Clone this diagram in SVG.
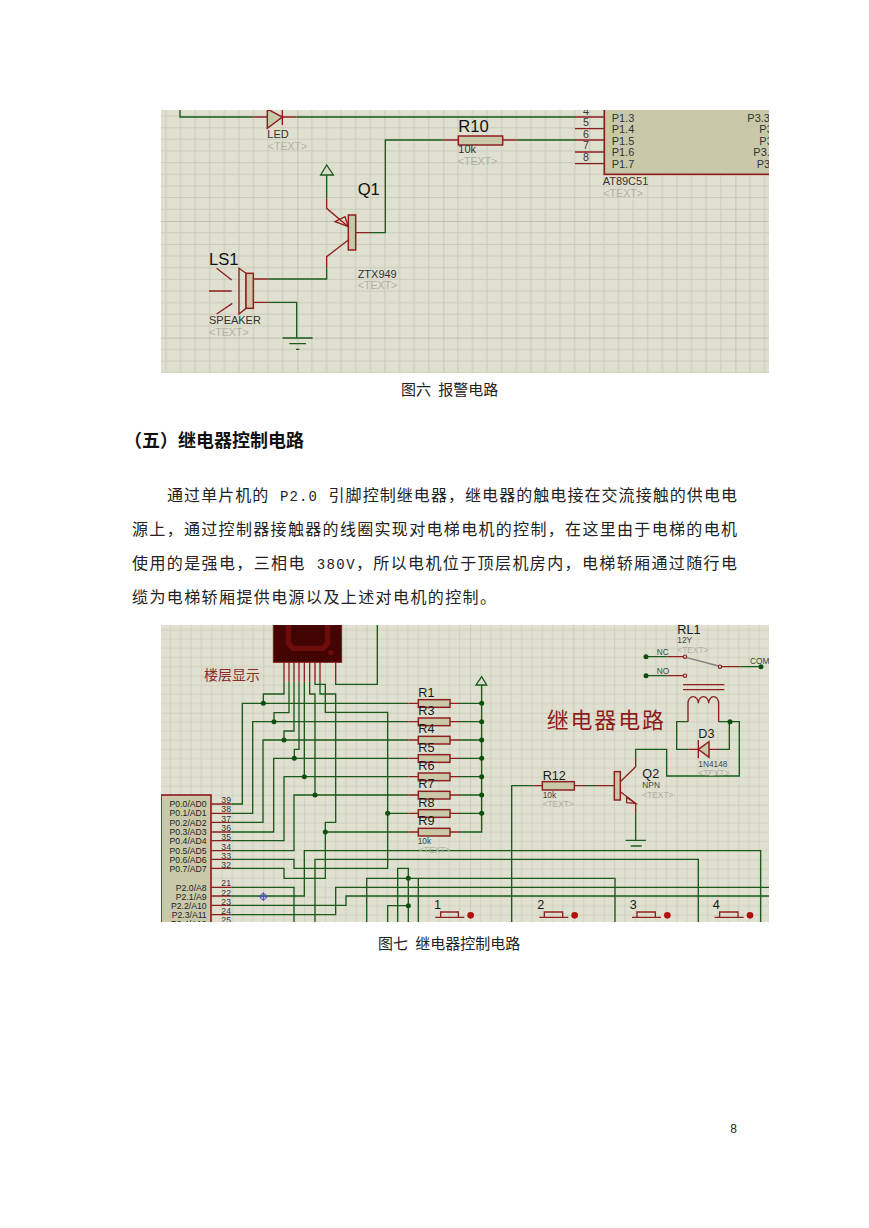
<svg xmlns="http://www.w3.org/2000/svg" width="869" height="1228" viewBox="0 0 869 1228">
<style>
.w{fill:none;stroke:#1a5a1a;stroke-width:4}
.r{fill:none;stroke:#8f1f1f;stroke-width:4}
.b{fill:#c9c9aa;stroke:#8f1f1f;stroke-width:4.500}
.j{fill:#0f4f0f}
text{font-family:"Liberation Sans","Noto Sans CJK SC",sans-serif}
.l{font-size:50px;fill:#111}
.m{font-size:38px;fill:#1a1a1a}
.s{font-size:33px;fill:#333}
.t{font-size:32px;fill:#b0b0a8}
.ss{font-size:25px;fill:#444}
.st{font-size:25px;fill:#b0b0a8}
.p{font-size:32px;fill:#333}
.c{font-size:15px;fill:#222;word-spacing:3px}
.x{font-family:"Liberation Mono","Noto Sans CJK SC",monospace;font-size:16px;fill:#222}
.h{font-size:18px;font-weight:700;fill:#111}
.n{font-family:"Liberation Mono",monospace;font-size:12px;fill:#222}
</style>
<defs>
<pattern id="g1" patternUnits="userSpaceOnUse" width="438" height="350" x="412" y="-2">
<rect width="438" height="350" fill="#e0e0d0"/>
<path d="M43.800 0V350M87.600 0V350M131.400 0V350M175.200 0V350M219 0V350M262.800 0V350M306.600 0V350M350.400 0V350M394.200 0V350M0 35H438M0 70H438M0 105H438M0 140H438M0 175H438M0 210H438M0 245H438M0 280H438M0 315H438" stroke="#cbcbbb" stroke-width="3"/>
<path d="M0 0V350M0 0H438" stroke="#b9b9a8" stroke-width="4"/>
</pattern>
<pattern id="g2" patternUnits="userSpaceOnUse" width="310" height="276" x="0" y="2">
<rect width="310" height="276" fill="#e0e0d0"/>
<path d="M31 0V276M62 0V276M93 0V276M124 0V276M155 0V276M186 0V276M217 0V276M248 0V276M279 0V276M0 27.600H310M0 55.200H310M0 82.800H310M0 110.400H310M0 138H310M0 165.600H310M0 193.200H310M0 220.800H310M0 248.400H310" stroke="#cdcdbd" stroke-width="2.500"/>
<path d="M0 0V276M0 0H310" stroke="#bcbcab" stroke-width="3.500"/>
</pattern>
<clipPath id="c1"><rect x="3" y="15" width="1824" height="789"/></clipPath>
<clipPath id="c2"><rect x="3" y="15" width="1824" height="891"/></clipPath>
</defs>
<rect width="869" height="1228" fill="#fff"/>

<g id="figure-6" transform="translate(160 105) scale(.33333)" clip-path="url(#c1)">
<rect x="3" y="15" width="1824" height="789" fill="url(#g1)"/>
<g id="connectors-6">
<path class="w" d="M60 15V36H280M410 36H1245M500 210V280M630 383H676V105H850M1070 105H1245M500 490V522H325M325 592H410V698"/>
<path class="w" d="M368 699H458M388 716H438M408 733H418M500 180L482 210H520Z"/>
<path class="r" d="M280 36H322M367 36H410M500 280V310L565 365M587 383H630M565 405L500 455V490M325 522H282M280 592H325M850 105H895M1028 105H1070"/>
</g>
<g id="LED">
<path class="b" d="M322 12V70L367 36Z"/><path class="r" d="M367 12V60"/>
<text class="s" x="322" y="100">LED</text><text class="t" x="323" y="135">&lt;TEXT&gt;</text>
</g>
<g id="Q1">
<rect class="b" x="565" y="330" width="22" height="105"/>
<path class="r" d="M525 350L555 335L565 365Z" fill="#e0e0d0"/>
<text class="l" x="593" y="269">Q1</text><text class="s" x="593" y="518">ZTX949</text><text class="t" x="593" y="553">&lt;TEXT&gt;</text>
</g>
<g id="LS1">
<path class="r" d="M237 490L258 505V610L237 627ZM170 490L215 525M147 558H215M170 627L217 595"/>
<rect class="b" x="258" y="505" width="22" height="105"/>
<text class="l" x="147" y="480">LS1</text><text class="s" x="147" y="658">SPEAKER</text><text class="t" x="147" y="693">&lt;TEXT&gt;</text>
</g>
<g id="R10">
<rect class="b" x="895" y="93" width="133" height="27"/>
<text class="l" x="895" y="80">R10</text><text class="s" x="895" y="145">10k</text><text class="t" x="893" y="180">&lt;TEXT&gt;</text>
</g>
<g id="U1">
<rect x="1333" y="0" width="600" height="208" fill="#c9c9aa" stroke="#8f1f1f" stroke-width="5"/>
<path class="r" d="M1245 36H1333M1245 71H1333M1245 105H1333M1245 141H1333M1245 176H1333"/>
<g text-anchor="middle"><text x="1278" y="31" class="p">4</text><text x="1278" y="64" class="p">5</text><text x="1278" y="98" class="p">6</text><text x="1278" y="133" class="p">7</text><text x="1278" y="169" class="p">8</text></g>
<text class="s" x="1355" y="50">P1.3</text><text class="s" x="1355" y="85">P1.4</text><text class="s" x="1355" y="119">P1.5</text><text class="s" x="1355" y="154">P1.6</text><text class="s" x="1355" y="189">P1.7</text>
<text class="s" x="1762" y="50">P3.3</text><text class="s" x="1798" y="85">P3</text><text class="s" x="1798" y="119">P3</text><text class="s" x="1780" y="154">P3.</text><text class="s" x="1790" y="189">P3</text>
<text class="s" x="1328" y="240">AT89C51</text><text class="t" x="1330" y="275">&lt;TEXT&gt;</text>
</g>
</g>

<text class="c" x="401" y="395">图六 报警电路</text>
<text class="h" x="124" y="447">（五）继电器控制电路</text>
<text class="x" x="167" y="501" textLength="570">通过单片机的 <tspan font-size="14">P2.0</tspan> 引脚控制继电器，继电器的触电接在交流接触的供电电</text>
<text class="x" x="132" y="535" textLength="605">源上，通过控制器接触器的线圈实现对电梯电机的控制，在这里由于电梯的电机</text>
<text class="x" x="132" y="569" textLength="605">使用的是强电，三相电 <tspan font-size="14">380V</tspan>，所以电机位于顶层机房内，电梯轿厢通过随行电</text>
<text class="x" x="132" y="603" textLength="364">缆为电梯轿厢提供电源以及上述对电机的控制。</text>

<g id="figure-7" transform="translate(160 620) scale(.33333)" clip-path="url(#c2)">
<rect x="3" y="15" width="1824" height="891" fill="url(#g2)"/>
<g id="connectors-7">
<path class="w" d="M372 185V222H310V250M387 185V278H342V305M402 185V333H372V360M417 185V388H403V415M433 185V470M449 185V222H465V525M480 185V222H527V607H496V636M465 185V193H496V277H683V745H402V718H215M527 185V193H652V15"/>
<path class="w" d="M215 552H247V250H745M215 580H278V305H745M215 607H309V360H745M215 636H341V415H745M215 662H372V470H745M215 692H402V525H745M683 580H745M215 745H372V775H496V636H745"/>
<path class="w" d="M900 250H965M900 305H965M900 360H965M900 415H965M900 470H965M900 525H965M900 580H965M900 636H965V195M965 170L948 195H980Z"/>
<path class="w" d="M215 828H433V692H1802V906M465 906V718H1615V906M215 802H402V906M215 856H558V828H1827M215 884H527V802H1827M620 906V775H1365V906M713 906V745H745V906M683 906V857H745M775 906V775"/>
<path class="w" d="M1055 906V497H1120M1275 497H1305M1427 415V388H1520V468H1738V305H1676M1584 305H1550V388H1585M1677 388H1708V305M1427 580V660M1397 661H1458M1412 678H1445M1458 110H1522M1458 167H1522M1738 140H1803"/>
</g>
<g id="display">
<rect x="340" y="5" width="205" height="122" fill="#430404" stroke="#8a1a1a" stroke-width="3"/>
<path d="M385 15V70L398 85H490L503 70V15" fill="none" stroke="#6e0c0c" stroke-width="16"/>
<circle cx="513" cy="98" r="8" fill="#6e0c0c"/>
<path class="r" d="M372 127V185M387 127V185M402 127V185M417 127V185M433 127V185M449 127V185M465 127V185M480 127V185M527 127V185"/>
<text x="132" y="180" font-size="42" fill="#8f2a2a">楼层显示</text>
</g>
<g id="U2">
<rect x="3" y="525" width="150" height="420" fill="#c9c9aa" stroke="#8f1f1f" stroke-width="5"/>
<path class="r" d="M153 552H215M153 580H215M153 607H215M153 636H215M153 662H215M153 692H215M153 718H215M153 745H215M153 802H215M153 828H215M153 856H215M153 884H215M153 912H215"/>
<g text-anchor="end" font-size="26" fill="#222">
<text x="140" y="562">P0.0/AD0</text><text x="140" y="589">P0.1/AD1</text><text x="140" y="618">P0.2/AD2</text><text x="140" y="646">P0.3/AD3</text><text x="140" y="673">P0.4/AD4</text><text x="140" y="701">P0.5/AD5</text><text x="140" y="729">P0.6/AD6</text><text x="140" y="756">P0.7/AD7</text><text x="140" y="812">P2.0/A8</text><text x="140" y="840">P2.1/A9</text><text x="140" y="866">P2.2/A10</text><text x="140" y="895">P2.3/A11</text><text x="140" y="922">P2.4/A12</text>
</g>
<g font-size="26" fill="#333">
<text x="184" y="549">39</text><text x="184" y="577">38</text><text x="184" y="605">37</text><text x="184" y="633">36</text><text x="184" y="660">35</text><text x="184" y="690">34</text><text x="184" y="716">33</text><text x="184" y="745">32</text><text x="184" y="799">21</text><text x="184" y="827">22</text><text x="184" y="855">23</text><text x="184" y="881">24</text><text x="184" y="908">25</text>
</g>
</g>
<g id="junctions-7" class="j">
<circle cx="310" cy="250" r="7.500"/><circle cx="342" cy="305" r="7.500"/><circle cx="372" cy="360" r="7.500"/><circle cx="403" cy="415" r="7.500"/><circle cx="433" cy="470" r="7.500"/><circle cx="465" cy="525" r="7.500"/><circle cx="683" cy="580" r="7.500"/><circle cx="496" cy="636" r="7.500"/>
<circle cx="965" cy="250" r="7.500"/><circle cx="965" cy="305" r="7.500"/><circle cx="965" cy="360" r="7.500"/><circle cx="965" cy="415" r="7.500"/><circle cx="965" cy="470" r="7.500"/><circle cx="965" cy="525" r="7.500"/><circle cx="965" cy="580" r="7.500"/>
<circle cx="745" cy="775" r="7.500"/><circle cx="745" cy="857" r="7.500"/><circle cx="1710" cy="305" r="7.500"/><circle cx="1458" cy="110" r="7.500"/><circle cx="1458" cy="167" r="7.500"/><circle cx="1803" cy="140" r="7.500"/>
</g>
<g id="marker" fill="none" stroke="#4a4ac8" stroke-width="3"><circle cx="310" cy="830" r="9"/><path d="M297 830H323M310 817V843"/></g>
<g id="R1-R9">
<path class="r" d="M745 250H775M870 250H900M745 305H775M870 305H900M745 360H775M870 360H900M745 415H775M870 415H900M745 470H775M870 470H900M745 525H775M870 525H900M745 580H775M870 580H900M745 636H775M870 636H900"/>
<rect class="b" x="775" y="239" width="95" height="23"/><rect class="b" x="775" y="294" width="95" height="23"/><rect class="b" x="775" y="349" width="95" height="23"/><rect class="b" x="775" y="404" width="95" height="23"/><rect class="b" x="775" y="459" width="95" height="23"/><rect class="b" x="775" y="514" width="95" height="23"/><rect class="b" x="775" y="569" width="95" height="23"/><rect class="b" x="775" y="625" width="95" height="23"/>
<text class="m" x="775" y="230">R1</text><text class="m" x="775" y="285">R3</text><text class="m" x="775" y="340">R4</text><text class="m" x="775" y="395">R5</text><text class="m" x="775" y="450">R6</text><text class="m" x="775" y="505">R7</text><text class="m" x="775" y="560">R8</text><text class="m" x="775" y="616">R9</text>
<text class="ss" x="773" y="671">10k</text><text class="st" x="777" y="700">&lt;TEXT&gt;</text>
</g>
<g id="buttons">
<path class="r" d="M826 892H913M842 892V876H895V892M1138 892H1225M1153 892V876H1208V892M1416 892H1503M1431 892V876H1486V892M1664 892H1751M1679 892V876H1734V892"/>
<circle cx="932" cy="886" r="10" fill="#b01010"/><circle cx="1244" cy="886" r="10" fill="#b01010"/><circle cx="1522" cy="886" r="10" fill="#b01010"/><circle cx="1770" cy="886" r="10" fill="#b01010"/>
<text class="m" x="822" y="868">1</text><text class="m" x="1132" y="868">2</text><text class="m" x="1409" y="868">3</text><text class="m" x="1658" y="868">4</text>
</g>
<g id="RL1">
<path class="r" d="M1522 110H1570M1522 167H1570M1685 140H1738M1569 194H1693M1569 209H1693M1584 305V250A15.500 20 0 0 1 1615 250A15.500 20 0 0 1 1646 250A15 20 0 0 1 1676 250V305"/>
<path d="M1580 113L1676 138" stroke="#808080" stroke-width="4"/>
<circle cx="1575" cy="110" r="5" fill="#e0e0d0" stroke="#8f1f1f" stroke-width="3.500"/><circle cx="1575" cy="167" r="5" fill="#e0e0d0" stroke="#8f1f1f" stroke-width="3.500"/><circle cx="1680" cy="140" r="5" fill="#e0e0d0" stroke="#8f1f1f" stroke-width="3.500"/>
<text class="m" x="1552" y="41">RL1</text><text class="ss" x="1552" y="70">12Y</text><text class="st" x="1552" y="98">&lt;TEXT&gt;</text>
<text class="ss" x="1490" y="105">NC</text><text class="ss" x="1490" y="162">NO</text><text class="ss" x="1770" y="132">COM</text>
<text x="1160" y="325" font-size="66" fill="#8f1a1a" textLength="352">继电器电路</text>
</g>
<g id="D3">
<path class="r" d="M1585 388H1615M1647 388H1677"/><path class="b" d="M1615 388L1647 365V412Z"/><path class="r" d="M1615 360V415"/>
<text class="m" x="1615" y="353">D3</text><text class="ss" x="1615" y="440">1N4148</text><text class="st" x="1615" y="467">&lt;TEXT&gt;</text>
</g>
<g id="R12">
<path class="r" d="M1120 497H1147M1243 497H1275M1305 497H1363"/><rect class="b" x="1147" y="485" width="96" height="25"/>
<text class="m" x="1148" y="479">R12</text><text class="ss" x="1148" y="534">10k</text><text class="st" x="1148" y="562">&lt;TEXT&gt;</text>
</g>
<g id="Q2">
<rect class="b" x="1363" y="455" width="18" height="85"/>
<path class="r" d="M1381 485L1427 440V415M1381 515L1427 550V580M1400 532L1427 550L1400 548Z"/>
<text class="m" x="1447" y="473">Q2</text><text class="ss" x="1447" y="505">NPN</text><text class="st" x="1447" y="533">&lt;TEXT&gt;</text>
</g>
</g>

<text class="c" x="378" y="949">图七 继电器控制电路</text>
<text class="n" x="730" y="1133">8</text>
</svg>
